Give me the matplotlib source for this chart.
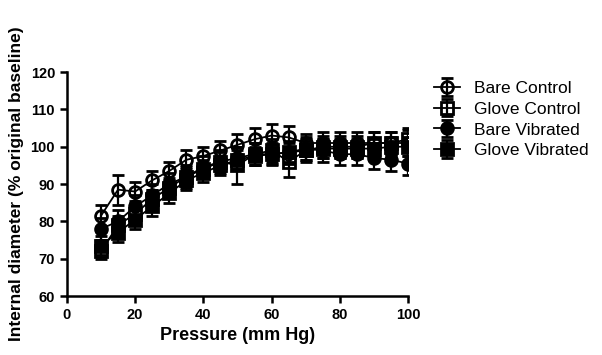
import matplotlib
matplotlib.use("Agg")
import matplotlib.pyplot as plt

plt.rcParams['font.family'] = ['Liberation Sans', 'DejaVu Sans']

pressure = [10, 15, 20, 25, 30, 35, 40, 45, 50, 55, 60, 65, 70, 75, 80, 85, 90, 95, 100]

bare_control = [81.5, 88.5, 88.0, 91.0, 93.5, 96.5, 97.5, 99.0, 100.5, 102.0, 103.0, 102.5,
                 101.0, 101.0, 101.0, 101.0, 101.0, 101.0, 101.0]
bare_control_err = [3.0, 4.0, 2.5, 2.5, 2.5, 2.5, 2.5, 2.5, 3.0, 3.0, 3.0, 3.0,
                    2.5, 3.0, 3.0, 3.0, 3.0, 3.0, 3.5]

glove_control = [72.0, 79.0, 82.0, 86.0, 89.0, 92.0, 94.0, 96.0, 95.0, 98.0, 99.0, 96.0,
                 99.0, 100.0, 100.0, 100.0, 101.0, 101.0, 102.0]
glove_control_err = [2.0, 2.5, 2.5, 2.5, 2.5, 2.5, 2.5, 2.5, 5.0, 3.0, 3.0, 4.0,
                     3.0, 3.0, 3.0, 3.0, 3.0, 3.0, 3.0]

bare_vib = [78.0, 80.0, 84.0, 87.0, 90.0, 92.0, 94.5, 96.0, 97.0, 98.0, 98.0, 98.5,
            99.5, 99.0, 98.0, 98.0, 97.0, 96.5, 95.5]
bare_vib_err = [3.0, 3.0, 3.0, 3.0, 3.0, 3.0, 3.0, 3.0, 3.0, 3.0, 3.0, 3.0,
                3.0, 3.0, 3.0, 3.0, 3.0, 3.0, 3.0]

glove_vib = [73.5, 77.0, 80.5, 84.0, 87.5, 91.0, 93.0, 95.0, 96.5, 97.5, 98.0, 98.5,
             99.0, 99.5, 99.5, 99.5, 99.5, 100.0, 100.0]
glove_vib_err = [2.5, 2.5, 2.5, 2.5, 2.5, 2.5, 2.5, 2.5, 2.5, 2.5, 2.5, 2.5,
                 2.5, 2.5, 2.5, 2.5, 2.5, 2.5, 2.5]

fig = plt.figure(figsize=(6.02, 3.55), dpi=100)
ax = fig.add_axes([0.111, 0.166, 0.567, 0.631])

common = dict(color='black', lw=1.3, capsize=4, capthick=2, elinewidth=1.6, ms=8.5, mew=2)
h_gv = ax.errorbar(pressure, glove_vib, yerr=glove_vib_err, fmt='-s', mfc='black', **common)
h_bv = ax.errorbar(pressure, bare_vib, yerr=bare_vib_err, fmt='-o', mfc='black', **common)
h_gc = ax.errorbar(pressure, glove_control, yerr=glove_control_err, fmt='-s', mfc='none', **common)
h_bc = ax.errorbar(pressure, bare_control, yerr=bare_control_err, fmt='-o', mfc='none', **common)

ax.set_xlim(0, 100)
ax.set_ylim(60, 120)
ax.set_xticks([0, 20, 40, 60, 80, 100])
ax.set_yticks([60, 70, 80, 90, 100, 110, 120])
for s in ['top', 'right']:
    ax.spines[s].set_visible(False)
for s in ['left', 'bottom']:
    ax.spines[s].set_linewidth(1.8)
ax.tick_params(direction='out', length=5, width=1.8, labelsize=10.5)
for lab in ax.get_xticklabels() + ax.get_yticklabels():
    lab.set_fontweight('bold')

ax.set_xlabel('Pressure (mm Hg)', fontsize=13, fontweight='bold', labelpad=4)
ax.set_ylabel('Internal diameter (% original baseline)', fontsize=12.5, fontweight='bold', labelpad=5)

leg = ax.legend([h_bc, h_gc, h_bv, h_gv],
                ['Bare Control', 'Glove Control', 'Bare Vibrated', 'Glove Vibrated'],
                loc='upper left', bbox_to_anchor=(1.03, 1.03), frameon=False,
                fontsize=12.5, labelspacing=0.32, handlelength=1.5, handletextpad=0.8)

fig.savefig('out.png', dpi=100)
